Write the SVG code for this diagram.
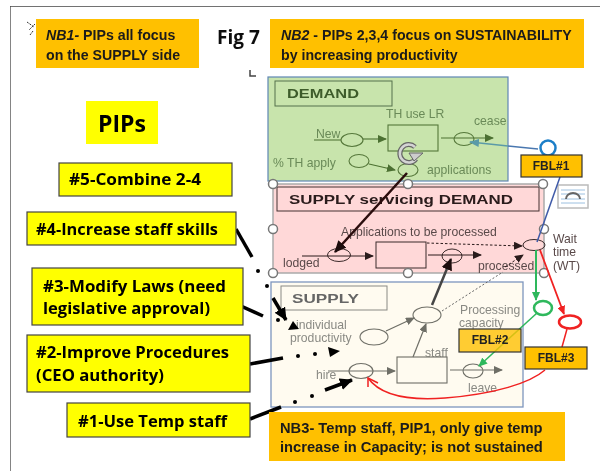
<svg xmlns="http://www.w3.org/2000/svg" width="600" height="471" viewBox="0 0 600 471">
<defs>
<filter id="soft" x="0" y="0" width="100%" height="100%"><feGaussianBlur stdDeviation="0.35"/></filter>
<marker id="ag" markerWidth="9" markerHeight="8" refX="8" refY="4" orient="auto" markerUnits="userSpaceOnUse"><path d="M0 0L9 4L0 8z" fill="#4c7030"/></marker>
<marker id="ad" markerWidth="9" markerHeight="8" refX="8" refY="4" orient="auto" markerUnits="userSpaceOnUse"><path d="M0 0L9 4L0 8z" fill="#2a1a1a"/></marker>
<marker id="adb" markerWidth="12" markerHeight="11" refX="11" refY="5.500" orient="auto" markerUnits="userSpaceOnUse"><path d="M0 0L12 5.500L0 11z" fill="#1a0a0a"/></marker>
<marker id="as" markerWidth="9" markerHeight="8" refX="8" refY="4" orient="auto" markerUnits="userSpaceOnUse"><path d="M0 0L9 4L0 8z" fill="#6e6e66"/></marker>
<marker id="ab" markerWidth="13" markerHeight="12" refX="12" refY="6" orient="auto" markerUnits="userSpaceOnUse"><path d="M0 0L13 6L0 12z" fill="#000"/></marker>
<marker id="at" markerWidth="10" markerHeight="8" refX="9" refY="4" orient="auto" markerUnits="userSpaceOnUse"><path d="M0 0L10 4L0 8z" fill="#5a9aa8"/></marker>
<marker id="agr" markerWidth="9" markerHeight="8" refX="8" refY="4" orient="auto" markerUnits="userSpaceOnUse"><path d="M0 0L9 4L0 8z" fill="#2eb85c"/></marker>
<marker id="ar" markerWidth="9" markerHeight="8" refX="8" refY="4" orient="auto" markerUnits="userSpaceOnUse"><path d="M0 0L9 4L0 8z" fill="#f02020"/></marker>
</defs>
<style>
text{font-family:"Liberation Sans",Arial,sans-serif}
.pip{font-family:"Open Sans","Noto Sans",sans-serif;font-size:16.6px;font-weight:700;fill:#000}
.yb{fill:#ffff00;stroke:#444;stroke-width:1.2}
.nb{fill:#ffc000}
.nbt{font-size:14.2px;font-weight:700;fill:#1a1a1a}
.gl{font-size:12.2px;fill:#6a8a58}
.pl{font-size:12.2px;fill:#5a4a4a}
.sl{font-size:12.2px;fill:#8a8a84}
.ge{fill:none;stroke:#55773a;stroke-width:1.1}
.pe{fill:none;stroke:#3a2a2a;stroke-width:1}
.se{fill:none;stroke:#6e6e66;stroke-width:1.1}
.gc{stroke:#4c7030;stroke-width:1.1;fill:none;marker-end:url(#ag)}
.pc{stroke:#2a1a1a;stroke-width:1;fill:none;marker-end:url(#ad)}
.sc{stroke:#6e6e66;stroke-width:1.2;fill:none;marker-end:url(#as)}
.h{fill:#fff;stroke:#777;stroke-width:1.5}
.fb{fill:#ffc000;stroke:#333;stroke-width:1.2}
.fbt{font-size:12px;font-weight:700;fill:#222;text-anchor:middle}
.th{stroke:#000;stroke-width:3.5;fill:none}
</style>
<rect width="600" height="471" fill="#fff"/>
<g filter="url(#soft)">
<path id="frame" d="M10 471V6H600" fill="none" stroke="#444" stroke-width="1.3"/>

<g id="demand">
<rect x="268" y="77" width="240" height="104" fill="#c8e4ac" stroke="#5f86b4" stroke-width="1.2"/>
<rect x="275" y="81" width="117" height="25" fill="none" stroke="#55704a" stroke-width="1"/>
<text x="287" y="98" font-size="13" font-weight="700" fill="#3e5c2c" textLength="72" lengthAdjust="spacingAndGlyphs">DEMAND</text>
<text x="386" y="118" class="gl">TH use LR</text>
<text x="474" y="125" class="gl">cease</text>
<text x="316" y="138" class="gl">New</text>
<text x="273" y="167" class="gl">% TH apply</text>
<text x="427" y="174" class="gl">applications</text>
<line x1="314" y1="140" x2="341" y2="140" class="ge"/>
<rect x="388" y="125" width="50" height="26" class="ge"/>
<ellipse cx="352" cy="140" rx="11" ry="6.500" class="ge"/>
<ellipse cx="464" cy="139" rx="10" ry="6.500" class="ge"/>
<ellipse cx="359" cy="161" rx="10" ry="6.500" class="ge"/>
<ellipse cx="408" cy="170" rx="10" ry="6.500" class="ge"/>
<line x1="363" y1="139" x2="386" y2="139" class="gc"/>
<line x1="441" y1="138" x2="493" y2="138" class="gc"/>
<line x1="369" y1="164" x2="395" y2="170" class="gc"/>
<g id="loop-icon">
<path d="M415 147a9 9 0 1 0 1 12" fill="none" stroke="#666" stroke-width="5"/>
<path d="M415 147a9 9 0 1 0 1 12" fill="none" stroke="#d4d4d4" stroke-width="2.500"/>
<path d="M409 153L423 153L414 161z" fill="#ccc" stroke="#666" stroke-width="1"/>
</g>
</g>

<g id="supply-servicing-demand">
<rect x="273" y="184" width="271" height="89" fill="#ffd8d8" stroke="#aaa" stroke-width="1.5"/>
<rect x="277" y="187" width="262" height="24" fill="none" stroke="#443030" stroke-width="1"/>
<text x="289" y="204" font-size="13" font-weight="700" fill="#2a1a1a" textLength="224" lengthAdjust="spacingAndGlyphs">SUPPLY servicing DEMAND</text>
<text x="341" y="236" class="pl">Applications to be processed</text>
<text x="283" y="267" class="pl">lodged</text>
<text x="478" y="270" class="pl">processed</text>
<text x="553" y="243" class="pl">Wait</text>
<text x="553" y="256" class="pl">time</text>
<text x="553" y="270" class="pl">(WT)</text>
<rect x="376" y="242" width="50" height="26" class="pe"/>
<ellipse cx="339" cy="255" rx="11.500" ry="6.500" class="pe"/>
<ellipse cx="452" cy="256" rx="10" ry="7" class="pe"/>
<ellipse cx="534" cy="245" rx="11" ry="5.500" class="pe"/>
<line x1="302" y1="256" x2="373" y2="256" class="pc"/>
<line x1="428" y1="255" x2="481" y2="255" class="pc"/>
<line x1="427" y1="243" x2="522" y2="246" class="pc" stroke-dasharray="2.500 2"/>
<path d="M505 267L523 255" class="pc" stroke-dasharray="2.500 2"/>
</g>

<g id="supply">
<rect x="271" y="282" width="252" height="125" fill="#fffbf0" stroke="#7d95bd" stroke-width="1.300"/>
<rect x="281" y="286" width="106" height="24" fill="none" stroke="#8a8a84" stroke-width="1"/>
<text x="292" y="303" font-size="13" font-weight="700" fill="#666" textLength="67" lengthAdjust="spacingAndGlyphs">SUPPLY</text>
<text x="296" y="329" class="sl">individual</text>
<text x="290" y="342" class="sl">productivity</text>
<text x="460" y="314" class="sl">Processing</text>
<text x="459" y="327" class="sl">capacity</text>
<text x="425" y="357" class="sl">staff</text>
<text x="316" y="379" class="sl">hire</text>
<text x="468" y="392" class="sl">leave</text>
<ellipse cx="374" cy="337" rx="14" ry="8" class="se"/>
<ellipse cx="427" cy="315" rx="14" ry="8" class="se"/>
<ellipse cx="361" cy="371" rx="12" ry="7.500" class="se"/>
<ellipse cx="473" cy="371" rx="10" ry="7" class="se"/>
<rect x="397" y="357" width="50" height="26" class="se"/>
<line x1="328" y1="371" x2="395" y2="371" class="sc"/>
<line x1="450" y1="370" x2="502" y2="370" class="sc"/>
<line x1="386" y1="331" x2="414" y2="318" class="sc"/>
<line x1="413" y1="357" x2="426" y2="324" class="sc"/>
<line x1="442" y1="311" x2="503" y2="272" stroke="#666" stroke-width="1" stroke-dasharray="2 2"/>
</g>

<g id="handles">
<circle cx="273" cy="184" r="4.500" class="h"/><circle cx="408" cy="184" r="4.500" class="h"/><circle cx="543" cy="184" r="4.500" class="h"/>
<circle cx="273" cy="229" r="4.500" class="h"/><circle cx="544" cy="229" r="4.500" class="h"/>
<circle cx="273" cy="273" r="4.500" class="h"/><circle cx="408" cy="273" r="4.500" class="h"/><circle cx="544" cy="273" r="4.500" class="h"/>
</g>
<g id="layout-icon">
<rect x="558" y="185" width="30" height="23" fill="#fff" stroke="#bbb" stroke-width="1.500"/>
<path d="M561 190h24M561 194h24M561 199h24M561 203h24" stroke="#9cc0e0" stroke-width="1"/>
<path d="M566 199a7 6 0 0 1 14 0" fill="none" stroke="#666" stroke-width="2"/>
</g>

<g id="connectors">
<line x1="407" y1="173" x2="335" y2="252" stroke="#2a0a0a" stroke-width="2.500" marker-end="url(#adb)"/>
<line x1="432" y1="305" x2="451" y2="259" stroke="#444" stroke-width="2.500" marker-end="url(#adb)"/>
<path d="M538 149L508 146" stroke="#4a78b0" stroke-width="1.500" fill="none"/>
<path d="M508 146L470 142" stroke="#5a9aa8" stroke-width="1.500" fill="none" marker-end="url(#at)"/>
<path d="M560 177L537 242" stroke="#3f5aa8" stroke-width="1.500" fill="none"/>
<path d="M536 250L536 300" stroke="#2eb85c" stroke-width="2" fill="none" marker-end="url(#agr)"/>
<path d="M540 250L564 314" stroke="#f02020" stroke-width="1.800" fill="none" marker-end="url(#ar)"/>
<path d="M537 313L479 366" stroke="#2eb85c" stroke-width="1.500" fill="none" marker-end="url(#agr)"/>
<path d="M567 329L562 347M545 370C530 383 495 394 445 398C405 401 380 395 368 378" stroke="#f02020" stroke-width="1.500" fill="none"/>
<path d="M378 383L368 378L368 387" stroke="#f02020" stroke-width="1.500" fill="none"/>

<line x1="236" y1="229" x2="252" y2="257" class="th"/>
<circle cx="258" cy="271" r="2"/><circle cx="267" cy="286" r="2"/>
<line x1="273" y1="298" x2="286" y2="320" stroke="#000" stroke-width="3.500" marker-end="url(#ab)"/>
<line x1="232" y1="302" x2="263" y2="316" class="th"/>
<circle cx="278" cy="320" r="2"/>
<path d="M288 330L293 321L299 329z" fill="#000"/>
<line x1="250" y1="364" x2="283" y2="358" class="th"/>
<circle cx="298" cy="356" r="2"/><circle cx="315" cy="354" r="2"/>
<path d="M328 347L340 351L330 357z" fill="#000"/>
<line x1="250" y1="419" x2="281" y2="407" class="th"/>
<circle cx="295" cy="402" r="2"/><circle cx="312" cy="396" r="2"/>
<line x1="325" y1="390" x2="352" y2="380" stroke="#000" stroke-width="3.500" marker-end="url(#ab)"/>
</g>

<g id="fbl1">
<circle cx="548" cy="148" r="7.500" fill="none" stroke="#1f7fc8" stroke-width="2.500"/>
<rect x="521" y="155" width="61" height="22" class="fb"/>
<text x="551" y="170" class="fbt">FBL#1</text>
</g>
<g id="fbl2">
<ellipse cx="543" cy="308" rx="9" ry="7" fill="none" stroke="#2eb85c" stroke-width="2.500"/>
<rect x="459" y="329" width="62" height="23" class="fb" fill-opacity=".8"/>
<text x="490" y="344" class="fbt">FBL#2</text>
</g>
<g id="fbl3">
<ellipse cx="570" cy="322" rx="11" ry="6.500" fill="#fff" stroke="#f02020" stroke-width="2.500"/>
<rect x="525" y="347" width="62" height="22" class="fb"/>
<text x="556" y="362" class="fbt">FBL#3</text>
</g>

<g id="nb1"><rect x="36" y="19" width="163" height="49" class="nb"/>
<text x="46" y="40" class="nbt"><tspan font-style="italic">NB1-</tspan> PIPs all focus</text>
<text x="46" y="60" class="nbt">on the SUPPLY side</text></g>
<g id="nb2"><rect x="270" y="19" width="314" height="49" class="nb"/>
<text x="281" y="40" class="nbt"><tspan font-style="italic">NB2</tspan> - PIPs 2,3,4 focus on SUSTAINABILITY</text>
<text x="281" y="60" class="nbt">by increasing productivity</text></g>
<g id="nb3"><rect x="269" y="412" width="296" height="49" class="nb"/>
<text x="280" y="433" class="nbt" style="font-size:14.700px">NB3- Temp staff, PIP1, only give temp</text>
<text x="280" y="452" class="nbt" style="font-size:14.700px">increase in Capacity; is not sustained</text></g>
<text id="fig7" x="217" y="44" style="font-family:'Open Sans',sans-serif;font-size:19px;font-weight:700" fill="#111">Fig 7</text>
<path id="corner-mark" d="M250 70v6h6" fill="none" stroke="#444" stroke-width="1.500"/>
<path id="pin-mark" d="M27 22l7 5M35 24l-6 6M33 31l-3 4" fill="none" stroke="#333" stroke-width="1" stroke-dasharray="2 1"/>

<g id="pips"><rect x="86" y="101" width="72" height="43" fill="#ffff00"/>
<text x="122" y="132" text-anchor="middle" style="font-family:'Open Sans',sans-serif;font-size:23px;font-weight:700">PIPs</text></g>
<g id="pip5"><rect x="59" y="163" width="173" height="33" class="yb"/><text x="69" y="185" class="pip" textLength="132" lengthAdjust="spacingAndGlyphs">#5-Combine 2-4</text></g>
<g id="pip4"><rect x="27" y="212" width="209" height="33" class="yb"/><text x="36" y="235" class="pip" textLength="182" lengthAdjust="spacingAndGlyphs">#4-Increase staff skills</text></g>
<g id="pip3"><rect x="32" y="268" width="211" height="57" class="yb"/><text x="43" y="292" class="pip" textLength="183" lengthAdjust="spacingAndGlyphs">#3-Modify Laws (need</text><text x="43" y="314" class="pip" textLength="167" lengthAdjust="spacingAndGlyphs">legislative approval)</text></g>
<g id="pip2"><rect x="27" y="335" width="223" height="57" class="yb"/><text x="36" y="358" class="pip" textLength="193" lengthAdjust="spacingAndGlyphs">#2-Improve Procedures</text><text x="36" y="381" class="pip" textLength="128" lengthAdjust="spacingAndGlyphs">(CEO authority)</text></g>
<g id="pip1"><rect x="67" y="403" width="183" height="34" class="yb"/><text x="78" y="427" class="pip" textLength="149" lengthAdjust="spacingAndGlyphs">#1-Use Temp staff</text></g>
</g>
</svg>
